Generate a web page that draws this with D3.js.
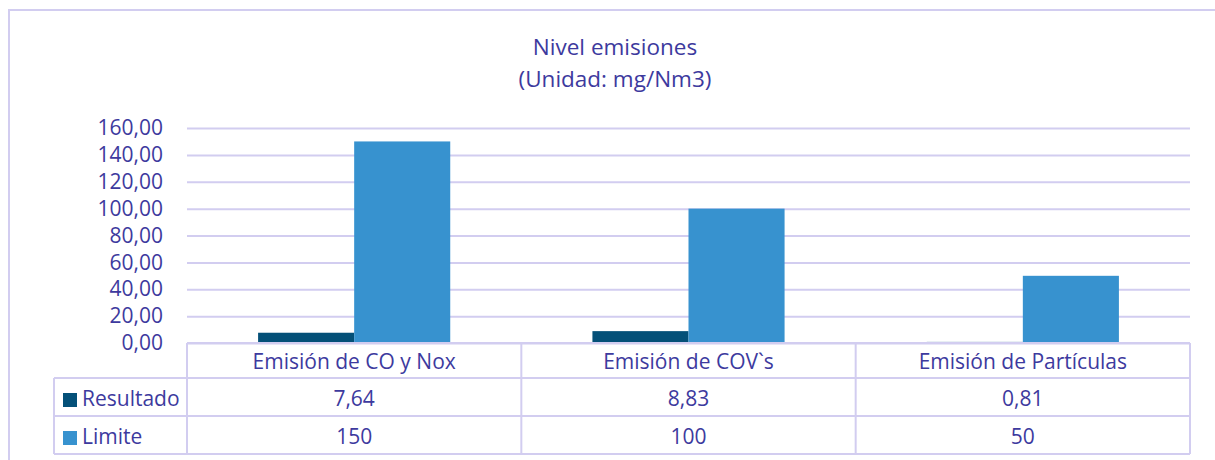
<!DOCTYPE html>
<html>
<head>
<meta charset="utf-8">
<script src="https://cdn.jsdelivr.net/npm/d3@7"></script>
<style>
  body { margin: 0; background: #fff; }
  text { font-family: "Open Sans", sans-serif; fill: #3d3a9e; }
</style>
</head>
<body>
<div id="chart"></div>
<script>
var categories = ["Emisión de CO y Nox", "Emisión de COV`s", "Emisión de Partículas"];
var series = ["Resultado", "Limite"];
var resultado = [7.64, 8.83, 0.81];
var limite = [150, 100, 50];
var resultadoLabels = ["7,64", "8,83", "0,81"];
var limiteLabels = ["150", "100", "50"];
var yTicks = [0, 20, 40, 60, 80, 100, 120, 140, 160];
var colors = ["#045078", "#3792cf"];

var W = 1215, H = 460;
var plot = {left: 187, right: 1190, top: 128, bottom: 343};
var rowH = [35, 38, 38];
var tableLeft = 54;
var lineColor = "#d2cdf0";
var fs = "21px";

var svg = d3.select("#chart").append("svg")
    .attr("width", W)
    .attr("height", H);

// outer frame (runs off the right and bottom edges)
svg.append("rect")
    .attr("x", 9)
    .attr("y", 10)
    .attr("width", W + 20)
    .attr("height", H + 20)
    .attr("fill", "none")
    .attr("stroke", lineColor)
    .attr("stroke-width", 2);

// title
svg.append("text")
    .attr("x", 615)
    .attr("y", 55)
    .attr("text-anchor", "middle")
    .style("font-size", "22.5px")
    .text("Nivel emisiones");
svg.append("text")
    .attr("x", 615)
    .attr("y", 87)
    .attr("text-anchor", "middle")
    .style("font-size", "22.5px")
    .text("(Unidad: mg/Nm3)");

var y = d3.scaleLinear()
  .domain([0, 160])
  .range([plot.bottom, plot.top]);

var x0 = d3.scaleBand()
  .domain(categories)
  .range([plot.left, plot.right])
  .paddingInner(0);

var x1 = d3.scaleBand()
  .domain(series)
  .range([0, x0.bandwidth()])
  .paddingInner(0)
  .paddingOuter(0.74);

var fmt = function(v) { return d3.format(".2f")(v).replace(".", ","); };

// y axis with gridlines
var yAxis = svg.append("g")
  .attr("transform", "translate(" + plot.left + ",0)")
  .call(d3.axisLeft(y).tickValues(yTicks).tickFormat(fmt)
      .tickSize(-(plot.right - plot.left)).tickPadding(24));
yAxis.select(".domain").remove();
yAxis.selectAll("line")
    .attr("stroke", lineColor)
    .attr("stroke-width", 2);
yAxis.selectAll("text")
    .style("font-size", fs)
    .style("font-family", "Open Sans")
    .attr("fill", "#3d3a9e");

// bars
var data = categories.map(function(c, i) {
  return {cat: c, values: [resultado[i], limite[i]]};
});

svg.append("g").selectAll("g")
  .data(data)
  .enter()
  .append("g")
    .attr("transform", function(d) { return "translate(" + x0(d.cat) + ",0)"; })
  .selectAll("rect")
  .data(function(d) { return d.values.map(function(v, j) { return {s: series[j], v: v}; }); })
  .enter()
  .append("rect")
    .attr("x", function(d) { return x1(d.s); })
    .attr("y", function(d) { return y(d.v); })
    .attr("width", x1.bandwidth())
    .attr("height", function(d) { return y(0) - y(d.v); })
    .attr("fill", function(d, i) { return colors[i]; });

// data table
var t = svg.append("g");
var r0 = plot.bottom, r1 = r0 + rowH[0], r2 = r1 + rowH[1], r3 = r2 + rowH[2];

function hline(x1p, x2p, yp) {
  t.append("line").attr("x1", x1p).attr("x2", x2p).attr("y1", yp).attr("y2", yp)
    .attr("stroke", lineColor).attr("stroke-width", 2);
}
function vline(xp, y1p, y2p) {
  t.append("line").attr("x1", xp).attr("x2", xp).attr("y1", y1p).attr("y2", y2p)
    .attr("stroke", lineColor).attr("stroke-width", 2);
}

hline(plot.left, plot.right, r0);
hline(tableLeft, plot.right, r1);
hline(tableLeft, plot.right, r2);
hline(tableLeft, plot.right, r3);
vline(tableLeft, r1, r3);
categories.forEach(function(c) { vline(x0(c), r0, r3); });
vline(plot.right, r0, r3);

// category labels
t.selectAll(".cat")
  .data(categories)
  .enter()
  .append("text")
    .attr("x", function(d) { return x0(d) + x0.bandwidth() / 2; })
    .attr("y", r0 + 26)
    .attr("text-anchor", "middle")
    .style("font-size", fs)
    .text(function(d) { return d; });

var rows = [
  {name: series[0], labels: resultadoLabels, top: r1, color: colors[0]},
  {name: series[1], labels: limiteLabels, top: r2, color: colors[1]}
];

rows.forEach(function(r) {
  t.append("rect")
    .attr("x", 63)
    .attr("y", r.top + 15)
    .attr("width", 14)
    .attr("height", 14)
    .attr("fill", r.color);
  t.append("text")
    .attr("x", 82)
    .attr("y", r.top + 28)
    .style("font-size", fs)
    .text(r.name);
  r.labels.forEach(function(l, i) {
    t.append("text")
      .attr("x", x0(categories[i]) + x0.bandwidth() / 2)
      .attr("y", r.top + 28)
      .attr("text-anchor", "middle")
      .style("font-size", fs)
      .text(l);
  });
});
</script>
</body>
</html>
